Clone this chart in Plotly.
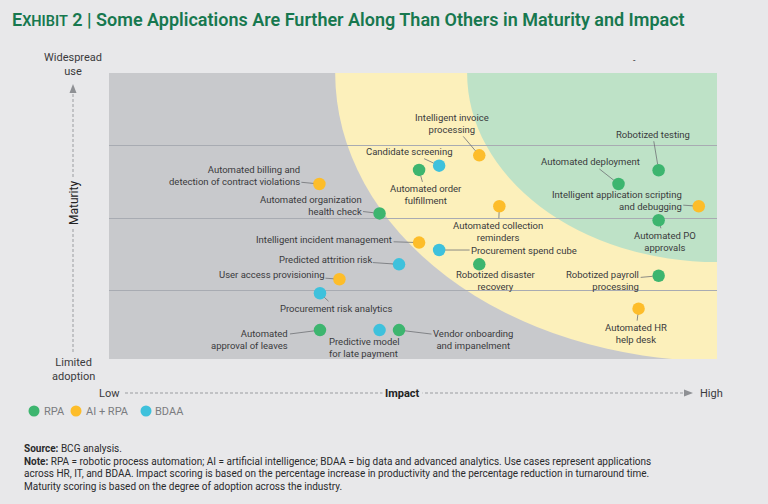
import plotly.graph_objects as go

# ---------------- data ----------------
labels = [
    "Automated billing and<br>detection of contract violations",
    "Candidate screening",
    "Automated order<br>fulfillment",
    "Automated organization<br>health check",
    "Intelligent incident management",
    "Intelligent invoice<br>processing",
    "Robotized testing",
    "Automated deployment",
    "Intelligent application scripting<br>and debugging",
    "Automated PO<br>approvals",
    "Automated collection<br>reminders",
    "Procurement spend cube",
    "Predicted attrition risk",
    "User access provisioning",
    "Procurement risk analytics",
    "Automated<br>approval of leaves",
    "Predictive model<br>for late payment",
    "Vendor onboarding<br>and impanelment",
    "Robotized disaster<br>recovery",
    "Robotized payroll<br>processing",
    "Automated HR<br>help desk",
]
categories = ["AI + RPA", "BDAA", "RPA", "RPA", "AI + RPA", "AI + RPA", "RPA", "RPA",
              "AI + RPA", "RPA", "AI + RPA", "BDAA", "BDAA", "AI + RPA", "BDAA", "RPA",
              "BDAA", "RPA", "RPA", "RPA", "AI + RPA"]
impact = [34.6, 54.3, 51.0, 44.5, 51.0, 60.9, 90.4, 83.8, 97.0, 90.4, 64.2, 54.3,
          47.7, 37.9, 34.7, 34.7, 44.5, 47.7, 60.9, 90.4, 87.1]
maturity = [61.2, 67.6, 66.1, 50.9, 40.7, 71.2, 66.0, 61.2, 53.4, 48.5, 53.4, 38.1,
            33.1, 27.9, 23.0, 10.1, 10.1, 10.1, 33.1, 29.1, 17.6]
series = ["RPA", "AI + RPA", "BDAA"]
gridlines_y = [24.1, 49.0, 74.5]

# ---------------- styles / layout ----------------
W, H = 768, 504
ML, MR, MT, MB = 109, 51, 73, 145
PW, PH = W - ML - MR, H - MT - MB

colors = {"RPA": "#3db56f", "AI + RPA": "#fdbd2a", "BDAA": "#3ec1dc"}
PAPER = "#e8e8ea"
FONT = "Roboto"
TXT = "#3a3a3c"

# label placement: (offset x px, offset y px, align)
label_pos = [
    (-85, -8, "right"), (-30, -14, "center"), (7, 25, "center"), (-69, -8, "right"),
    (-95, -3, "center"), (-27, -32, "center"), (-6, -36, "center"), (-28, -22, "center"),
    (-82, -6, "right"), (6, 21, "center"), (-1, 25, "center"), (85, 0, "center"),
    (-74, -5, "center"), (-68, -5, "center"), (16, 15, "center"), (-70, 9, "right"),
    (-15, 17, "left"), (74, 9, "center"), (17, 16, "center"), (-56, 5, "right"),
    (-3, 25, "center"),
]


def px(xp):
    return (xp - ML) / PW


def py(yp):
    return (H - MB - yp) / PH


def paper_text(xp, yp, text, size=11, color=TXT, xanchor="center", **kw):
    return dict(x=px(xp), y=py(yp), xref="paper", yref="paper", showarrow=False,
                xanchor=xanchor, yanchor="middle", text=text,
                font=dict(family=FONT, size=size, color=color), **kw)


fig = go.Figure()

for s in series:
    xs = [impact[i] for i in range(len(labels)) if categories[i] == s]
    ys = [maturity[i] for i in range(len(labels)) if categories[i] == s]
    tx = [labels[i].replace("<br>", " ") for i in range(len(labels)) if categories[i] == s]
    fig.add_trace(go.Scatter(
        x=xs, y=ys, mode="markers", name=s, text=tx,
        marker=dict(size=12.5, color=colors[s], line=dict(width=0)),
        showlegend=False, hoverinfo="text"))

shapes = []
# background regions (ellipses centred at top-right corner)
shapes.append(dict(type="circle", xref="x", yref="y", x0=100 - 62.8, x1=100 + 62.8,
                   y0=100 - 100.7, y1=100 + 100.7, fillcolor="#fcf0bb",
                   line=dict(width=0), layer="below"))
shapes.append(dict(type="circle", xref="x", yref="y", x0=100 - 41.1, x1=100 + 41.1,
                   y0=100 - 66.1, y1=100 + 66.1, fillcolor="#bee2c7",
                   line=dict(width=0), layer="below"))

# axis arrows (dashed)
shapes.append(dict(type="line", xref="paper", yref="paper", x0=px(73), x1=px(73),
                   y0=py(352), y1=py(90), line=dict(color="#9a9ca0", width=1, dash="3px,2px")))
shapes.append(dict(type="path", xref="paper", yref="paper",
                   path=f"M {px(69.5)} {py(93)} L {px(76.5)} {py(93)} L {px(73)} {py(84)} Z",
                   fillcolor="#8e9094", line=dict(width=0)))
shapes.append(dict(type="line", xref="paper", yref="paper", x0=px(125), x1=px(686),
                   y0=py(393), y1=py(393), line=dict(color="#9a9ca0", width=1, dash="3px,2px")))
shapes.append(dict(type="path", xref="paper", yref="paper",
                   path=f"M {px(684)} {py(389.5)} L {px(684)} {py(396.5)} L {px(693)} {py(393)} Z",
                   fillcolor="#8e9094", line=dict(width=0)))

annotations = []
for i, lab in enumerate(labels):
    ax_, ay_, al = label_pos[i]
    annotations.append(dict(
        x=impact[i], y=maturity[i], xref="x", yref="y", text=lab,
        showarrow=True, arrowhead=0, arrowwidth=0.8, arrowcolor="#6e7175",
        ax=ax_, ay=ay_, standoff=6, align=al,
        font=dict(family=FONT, size=9.5, color=TXT)))

# title
annotations.append(paper_text(
    10, 20,
    "E<span style='font-size:14.5px'>XHIBIT</span> 2 | Some Applications Are Further Along Than Others in Maturity and Impact",
    size=18, color="#17784f", xanchor="left"))
annotations[-1]["font"]["weight"] = 600

# axis end labels
annotations += [
    paper_text(73, 64, "Widespread<br>use"),
    paper_text(73, 369, "Limited<br>adoption"),
    paper_text(74, 203, "Maturity", size=12, color="#222", textangle=-90,
               bgcolor=PAPER, borderpad=2),
    paper_text(109, 393, "Low"),
    paper_text(402, 393, "<b>Impact</b>", color="#222", bgcolor=PAPER, borderpad=2),
    paper_text(711, 393, "High"),
    paper_text(634, 60, "-", size=9, color="#333"),
]

# manual legend
leg_dot_x = [34, 76, 146]
leg_txt_x = [42, 84, 153]
for s, dx, tx in zip(series, leg_dot_x, leg_txt_x):
    shapes.append(dict(type="circle", xref="paper", yref="paper",
                       xsizemode="pixel", ysizemode="pixel",
                       xanchor=px(dx), yanchor=py(411),
                       x0=-5.5, x1=5.5, y0=-5.5, y1=5.5,
                       fillcolor=colors[s], line=dict(width=0)))
    annotations.append(paper_text(tx, 411, s, color="#7a7c80", xanchor="left"))

# footnotes
notes = [
    (449, "<b>Source:</b> BCG analysis."),
    (461, "<b>Note:</b> RPA = robotic process automation; AI = artificial intelligence; BDAA = big data and advanced analytics. Use cases represent applications"),
    (473, "across HR, IT, and BDAA. Impact scoring is based on the percentage increase in productivity and the percentage reduction in turnaround time."),
    (486, "Maturity scoring is based on the degree of adoption across the industry."),
]
for yy, t in notes:
    annotations.append(paper_text(22, yy, t, size=10, color="#2a2a2c", xanchor="left"))

fig.update_layout(
    width=W, height=H,
    margin=dict(l=ML, r=MR, t=MT, b=MB),
    paper_bgcolor=PAPER, plot_bgcolor="#c8c9cc",
    shapes=shapes, annotations=annotations,
    showlegend=False,
    xaxis=dict(range=[0, 100], showgrid=False, zeroline=False, showticklabels=False,
               showline=False, fixedrange=True),
    yaxis=dict(range=[0, 100], tickvals=gridlines_y, showgrid=True, gridcolor="#a8abb2",
               gridwidth=1, zeroline=False, showticklabels=False, ticks="", showline=False,
               fixedrange=True),
)

fig.write_html("out.html", config={"displayModeBar": False},
               post_script="document.body.style.margin='0';document.body.style.background='#e8e8ea';")
